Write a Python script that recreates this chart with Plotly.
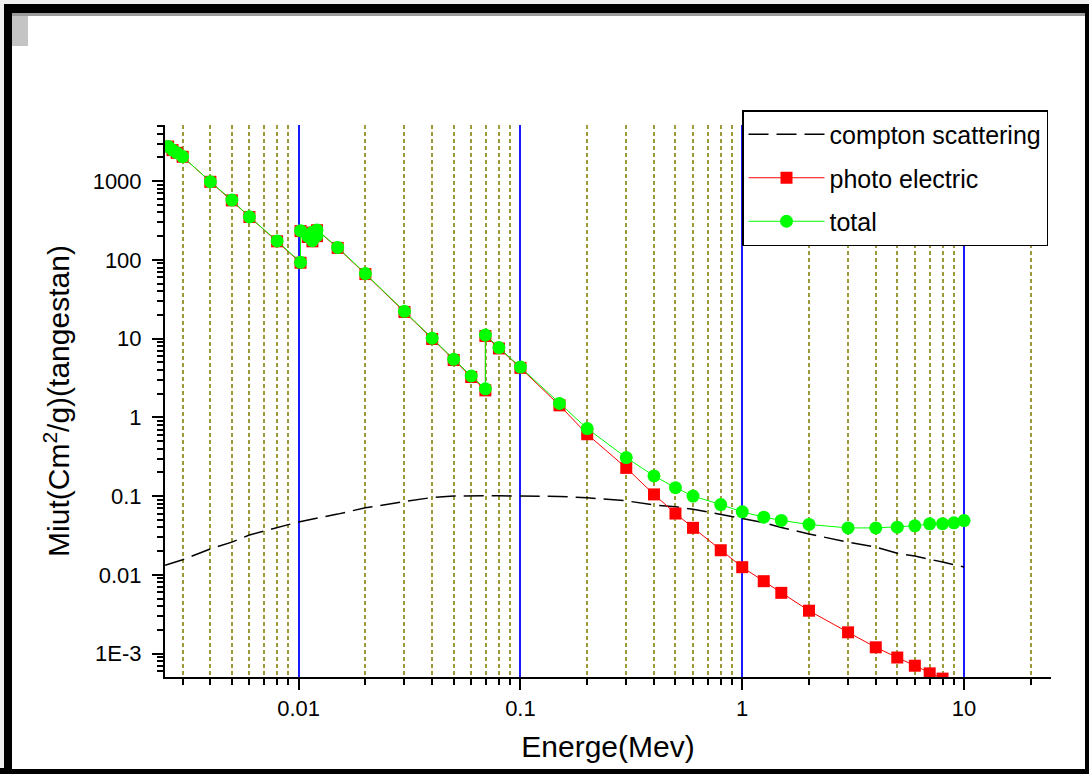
import plotly.graph_objects as go

# ---------------- data ----------------
energy_pe = [0.00258, 0.0027, 0.00282, 0.003, 0.004, 0.005, 0.006, 0.008,
             0.0102, 0.0102, 0.011, 0.01154, 0.01154, 0.0121, 0.0121, 0.015,
             0.02, 0.03, 0.04, 0.05, 0.06, 0.0695, 0.0695, 0.08, 0.1, 0.15,
             0.2, 0.3, 0.4, 0.5, 0.6, 0.8, 1, 1.25, 1.5, 2, 3, 4, 5, 6, 7, 8, 9, 10]
photo_electric = [2750, 2480, 2290, 2040, 980, 570, 350, 172,
                  92, 232, 195, 172, 222, 200, 238, 142,
                  66, 21.8, 9.9, 5.35, 3.25, 2.2, 10.8, 7.5, 4.25, 1.42,
                  0.61, 0.228, 0.105, 0.060, 0.0395, 0.0205, 0.0125, 0.0083, 0.0059,
                  0.0035, 0.00186, 0.00120, 0.00089, 0.00070, 0.00056, 0.00048, 0.00042, 0.00037]
total = [2760, 2490, 2300, 2050, 985, 575, 352, 174,
         93, 235, 198, 175, 225, 203, 240, 144,
         67, 22.2, 10.1, 5.45, 3.35, 2.3, 11.1, 7.7, 4.35, 1.50,
         0.72, 0.308, 0.180, 0.128, 0.100, 0.078, 0.063, 0.054, 0.049,
         0.0436, 0.0394, 0.0394, 0.0403, 0.0419, 0.0444, 0.0446, 0.0457, 0.0488]

energy_compton = [0.0025, 0.003, 0.004, 0.005, 0.006, 0.008, 0.01, 0.015, 0.02, 0.03,
                  0.04, 0.05, 0.06, 0.08, 0.1, 0.15, 0.2, 0.3, 0.4, 0.5, 0.6, 0.8,
                  1, 1.25, 1.5, 2, 3, 4, 5, 6, 8, 10]
compton = [0.0132, 0.0155, 0.0213, 0.026, 0.032, 0.0395, 0.047, 0.059, 0.071, 0.085,
           0.096, 0.100, 0.101, 0.101, 0.100, 0.099, 0.095, 0.087, 0.077, 0.073, 0.068, 0.058,
           0.051, 0.046, 0.040, 0.033, 0.026, 0.0225, 0.0188, 0.0173, 0.0145, 0.0126]

x_tick_vals = [0.01, 0.1, 1, 10]
x_tick_text = ["0.01", "0.1", "1", "10"]
y_tick_vals = [1e-3, 1e-2, 1e-1, 1, 10, 100, 1000]
y_tick_text = ["1E-3", "0.01", "0.1", "1", "10", "100", "1000"]

series_names = ["compton scattering", "photo electric", "total"]
x_title = "Energe(Mev)"
y_title = "Miut(Cm<sup>2</sup>/g)(tangestan)"

# ---------------- layout geometry ----------------
FIG_W, FIG_H = 1089, 774
ML, MR, MT, MB = 165, 38, 125, 97
PW, PH = FIG_W - ML - MR, FIG_H - MT - MB
FONT = "Liberation Sans, Arial, sans-serif"


def px_x(px):
    return (px - ML) / PW


def px_y(py):
    return (FIG_H - MB - py) / PH


fig = go.Figure()

fig.add_trace(go.Scatter(
    x=energy_compton, y=compton, mode="lines", name=series_names[0],
    legendgroup="c",
    line=dict(color="black", width=1.5, dash="20px,8px"),
))
fig.add_trace(go.Scatter(
    x=energy_pe, y=photo_electric, mode="lines+markers", name=series_names[1],
    legendgroup="p",
    line=dict(color="#ff0000", width=1),
    marker=dict(symbol="square", size=12, color="#ff0000", line=dict(width=0)),
))
fig.add_trace(go.Scatter(
    x=energy_pe, y=total, mode="lines+markers", name=series_names[2],
    legendgroup="t",
    line=dict(color="#00ff00", width=1),
    marker=dict(symbol="circle", size=13, color="#00ff00", line=dict(width=0)),
))

# window-style frame around the graph
shapes = [
    dict(type="rect", xref="paper", yref="paper", layer="below",
         x0=px_x(4), x1=px_x(FIG_W), y0=px_y(4), y1=px_y(FIG_H),
         fillcolor="black", line=dict(width=0)),
    dict(type="rect", xref="paper", yref="paper", layer="below",
         x0=px_x(0), x1=px_x(4), y0=px_y(768), y1=px_y(FIG_H),
         fillcolor="black", line=dict(width=0)),
    dict(type="rect", xref="paper", yref="paper", layer="below",
         x0=px_x(12), x1=px_x(1085), y0=px_y(13), y1=px_y(769),
         fillcolor="white", line=dict(width=0)),
    dict(type="rect", xref="paper", yref="paper", layer="below",
         x0=px_x(12), x1=px_x(1085), y0=px_y(13), y1=px_y(16),
         fillcolor="#9a9a9a", line=dict(width=0)),
    dict(type="rect", xref="paper", yref="paper", layer="below",
         x0=px_x(12), x1=px_x(28), y0=px_y(16), y1=px_y(46),
         fillcolor="#c4c4c4", line=dict(width=0)),
]

fig.update_layout(
    width=FIG_W, height=FIG_H,
    margin=dict(l=ML, r=MR, t=MT, b=MB, pad=0),
    paper_bgcolor="#f0f0f0", plot_bgcolor="white",
    font=dict(family=FONT, color="black"),
    shapes=shapes,
    showlegend=True,
    legend=dict(
        x=px_x(742), y=px_y(110), xanchor="left", yanchor="top",
        bgcolor="white", bordercolor="black", borderwidth=1.5,
        font=dict(family=FONT, size=25, color="black"),
        itemwidth=76, tracegroupgap=8,
    ),
    xaxis=dict(
        type="log", range=[-2.6024, 1.392],
        tickvals=x_tick_vals, ticktext=x_tick_text,
        tickfont=dict(size=22, family=FONT, color="black"),
        ticks="outside", ticklen=11, tickwidth=1.5, tickcolor="black",
        showline=True, linecolor="black", linewidth=2,
        showgrid=True, gridcolor="#1a1aff", gridwidth=1.5,
        zeroline=False,
        minor=dict(dtick="D1", ticks="outside", ticklen=6, tickwidth=1.5,
                   tickcolor="black", showgrid=True, gridcolor="#9d9a3c",
                   gridwidth=1.5, griddash="4px,3px"),
        title=dict(text=x_title, font=dict(size=30, family=FONT, color="black"),
                   standoff=16),
    ),
    yaxis=dict(
        type="log", range=[-3.298, 3.713],
        tickvals=y_tick_vals, ticktext=y_tick_text,
        tickfont=dict(size=22, family=FONT, color="black"),
        ticks="outside", ticklen=11, tickwidth=1.5, tickcolor="black",
        ticklabelstandoff=6,
        showline=True, linecolor="black", linewidth=2,
        showgrid=False, zeroline=False,
        minor=dict(dtick="D1", ticks="outside", ticklen=6, tickwidth=1.5,
                   tickcolor="black", showgrid=False),
        title=dict(text=y_title, font=dict(size=30, family=FONT, color="black"),
                   standoff=14),
    ),
)

fig.write_html(
    "out.html",
    config={"displayModeBar": False},
    post_script="document.body.style.margin='0';document.body.style.overflow='hidden';",
)
